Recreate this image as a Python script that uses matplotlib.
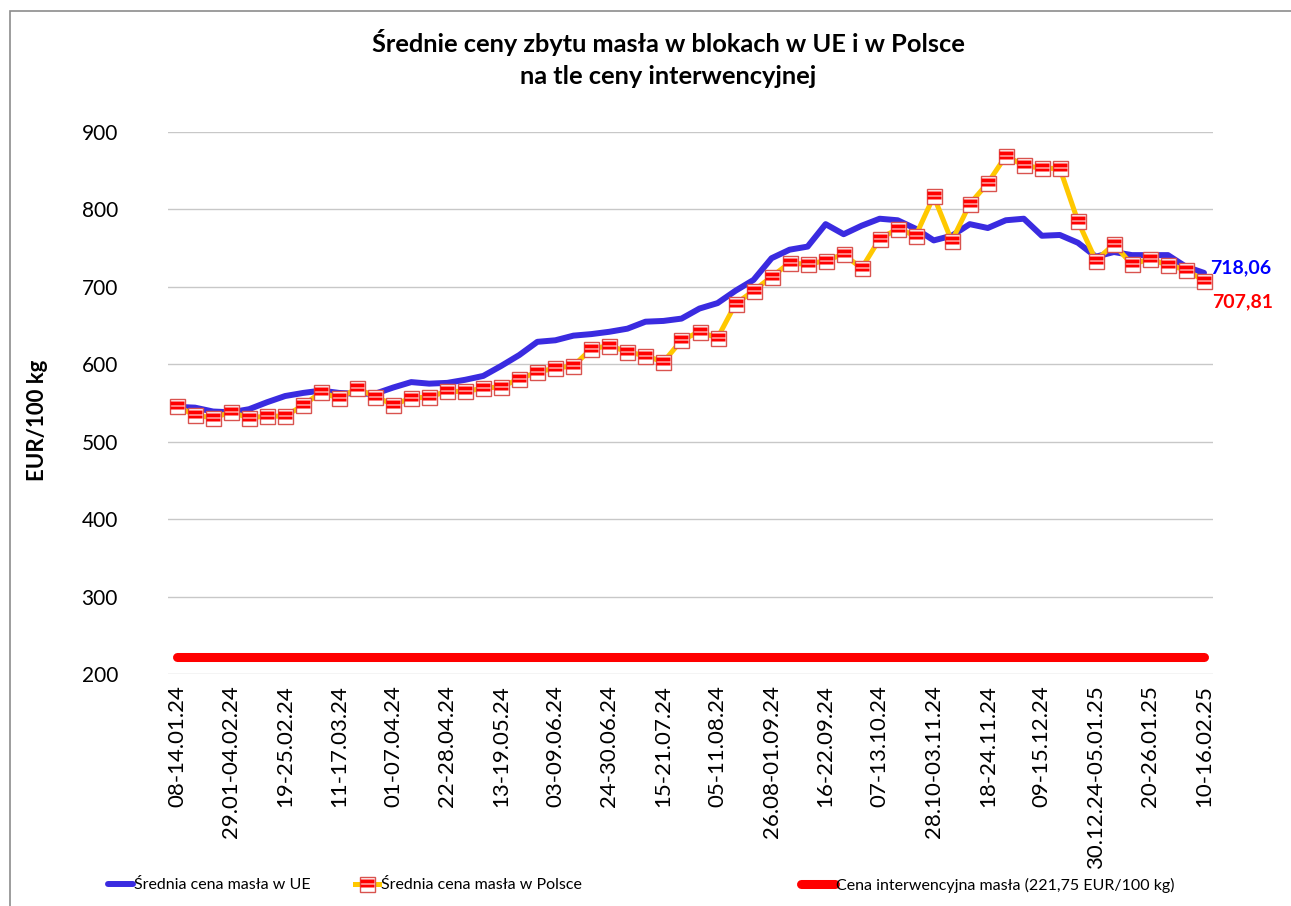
import numpy as np
import matplotlib.pyplot as plt
from matplotlib.path import Path
from matplotlib.patches import Rectangle

plt.rcParams['font.family'] = ['Lato', 'DejaVu Sans']

# ceny tygodniowe EUR/100 kg, 08-14.01.24 ... 10-16.02.25
eu = [545, 544, 539, 538, 542, 551, 559, 563, 566, 563,
      562, 562, 570, 577, 575, 576, 580, 585, 598, 612,
      629, 631, 637, 639, 642, 646, 655, 656, 659, 672,
      679, 695, 709, 737, 748, 752, 781, 768, 779, 788,
      786, 775, 760, 766, 781, 776, 786, 788, 766, 767,
      757, 739, 745, 741, 741, 741, 726, 718.06]
pl = [546, 534, 531, 538, 531, 533, 533, 547, 564, 556,
      569, 558, 548, 556, 558, 565, 565, 569, 571, 581,
      590, 595, 598, 620, 624, 616, 611, 603, 631, 642,
      634, 678, 695, 713, 731, 729, 734, 742, 724, 762,
      775, 766, 817, 759, 807, 834, 869, 857, 853, 853,
      785, 734, 755, 729, 736, 728, 722, 707.81]
intervention = 221.75

week_labels = ["08-14.01.24", "29.01-04.02.24", "19-25.02.24", "11-17.03.24",
               "01-07.04.24", "22-28.04.24", "13-19.05.24", "03-09.06.24",
               "24-30.06.24", "15-21.07.24", "05-11.08.24", "26.08-01.09.24",
               "16-22.09.24", "07-13.10.24", "28.10-03.11.24", "18-24.11.24",
               "09-15.12.24", "30.12.24-05.01.25", "20-26.01.25", "10-16.02.25"]

x = np.arange(len(eu))
W, H = 1291, 906

fig = plt.figure(figsize=(W / 100, H / 100), dpi=100)
ax = fig.add_axes([168 / W, 1 - 674 / H, 1045 / W, 542 / H])

# ramka wykresu (ucieta z prawej i od dolu)
fig.patches.append(Rectangle((10 / W, -0.1), 1.2, 1 - 11 / H + 0.1,
                             transform=fig.transFigure, fill=False,
                             edgecolor='#8c8c8c', linewidth=1.2))

# znacznik: kwadrat z czerwonymi paskami
stripes = Path.make_compound_path(
    Path([(-1, 0.2), (1, 0.2), (1, 0.75), (-1, 0.75), (-1, 0.2)], closed=True),
    Path([(-1, -0.45), (1, -0.45), (1, 0.02), (-1, 0.02), (-1, -0.45)], closed=True),
    Path([(-1, -1), (-1, -1), (-1, -1), (-1, -1), (-1, -1)], closed=True),
    Path([(1, 1), (1, 1), (1, 1), (1, 1), (1, 1)], closed=True),
)

l_int, = ax.plot(x, [intervention] * len(x), color='#ff0000', lw=6.5,
                 solid_capstyle='round', zorder=2)
l_eu, = ax.plot(x, eu, color='#3a2be0', lw=4.3, solid_capstyle='round',
                zorder=3)
l_pl, = ax.plot(x, pl, color='#ffc800', lw=3.6, marker='s', ms=10.8,
                mfc='white', mec='#d9534f', mew=1.0, zorder=4)
l_st, = ax.plot(x, pl, ls='none', marker=stripes, ms=9.4, mfc='#ff0000',
                mec='none', zorder=5)

ax.set_xlim(-0.5, len(x) - 0.5)
ax.set_ylim(200, 900)
ax.set_yticks(np.arange(200, 901, 100))
ax.set_xticks(x[::3])
ax.set_xticklabels(week_labels, rotation=90)
ax.tick_params(axis='x', length=0, pad=8, labelsize=16)
ax.tick_params(axis='y', length=0, pad=36, labelsize=15)
ax.grid(True, axis='y', color='#c8c8c8', lw=1)
ax.set_axisbelow(True)
for s in ax.spines.values():
    s.set_visible(False)

fig.text(38 / W, 1 - 420 / H, "EUR/100 kg", rotation=90, ha='center',
         va='center', fontsize=16, fontweight='bold')
fig.text(668 / W, 1 - 42 / H, "Średnie ceny zbytu masła w blokach w UE i w Polsce",
         ha='center', va='center', fontsize=18.3, fontweight='bold')
fig.text(668 / W, 1 - 77 / H, "na tle ceny interwencyjnej",
         ha='center', va='center', fontsize=18.3, fontweight='bold')

ax.annotate("718,06", (x[-1], eu[-1]), xytext=(6, 5), textcoords='offset pixels',
            ha='left', va='center', color='#0000ff', fontsize=14, fontweight='bold')
ax.annotate("707,81", (x[-1], pl[-1]), xytext=(8, -21), textcoords='offset pixels',
            ha='left', va='center', color='#ff0000', fontsize=14, fontweight='bold')

# legenda: trzy osobne wpisy w jednym rzedzie
entries = [(l_eu, "Średnia cena masła w UE", 108, 1.55),
           ((l_pl, l_st), "Średnia cena masła w Polsce", 355, 1.5),
           (l_int, "Cena interwencyjna masła (221,75 EUR/100 kg)", 801, 2.1)]
for handle, label, x0, hl in entries:
    fig.legend([handle], [label], loc='center left',
               bbox_to_anchor=(x0 / W, 1 - 885 / H), frameon=False,
               fontsize=11.5, handlelength=hl, handletextpad=0.1,
               borderaxespad=0, borderpad=0)

fig.savefig("out.png", dpi=100)
